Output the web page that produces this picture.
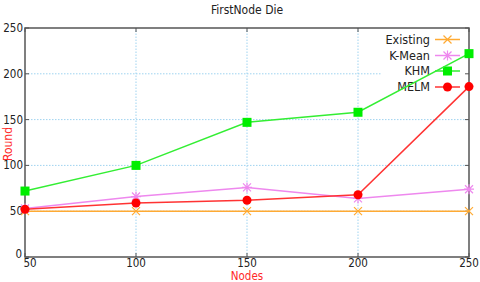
<!DOCTYPE html>
<html lang="en">
  <head>
    <meta charset="UTF-8" />
    <title>FirstNode Die</title>
    <script src="https://d3js.org/d3.v7.min.js"></script>
    <style>
      body {
        margin: 0;
        background: white;
        font-family: "DejaVu Sans Condensed", "DejaVu Sans", "Liberation Sans", sans-serif;
        font-stretch: condensed;
      }
      .grid line {
        stroke: #9fd3f0;
        stroke-width: 1px;
        stroke-dasharray: 1.5 1.5;
      }
      .tick-label {
        font-size: 11.5px;
        fill: #222;
      }
    </style>
  </head>
  <body>
    <div id="chart"></div>
    <script>
      const nodes = [50, 100, 150, 200, 250];
      const yTicks = [0, 50, 100, 150, 200, 250];
      const existing = [50, 50, 50, 50, 50];
      const kMean = [53, 66, 76, 64, 74];
      const khm = [72, 100, 147, 158, 222];
      const melm = [52, 59, 62, 68, 186];

      const series = [
        { name: "Existing", values: existing, color: "#ffaa33", marker: "x" },
        { name: "K-Mean", values: kMean, color: "#ee88ee", marker: "star" },
        { name: "KHM", values: khm, color: "#33ee33", marker: "square", fill: "#00ee00" },
        { name: "MELM", values: melm, color: "#ff3333", marker: "circle", fill: "#ff0000" },
      ];

      const width = 480;
      const height = 282;
      const margin = { top: 28, right: 11, bottom: 25, left: 25 };

      const svg = d3
        .select("#chart")
        .append("svg")
        .attr("width", width)
        .attr("height", height);

      const x = d3
        .scaleLinear()
        .domain([50, 250])
        .range([margin.left, width - margin.right]);
      const y = d3
        .scaleLinear()
        .domain([0, 250])
        .range([height - margin.bottom, margin.top]);

      // legend area, clears the grid behind it
      const legendLeft = 382;
      const legendBottom = 95;

      const grid = svg.append("g").attr("class", "grid");
      grid
        .selectAll(".gx")
        .data([100, 150, 200])
        .enter()
        .append("line")
        .attr("x1", (d) => x(d))
        .attr("x2", (d) => x(d))
        .attr("y1", y(0))
        .attr("y2", y(250));
      grid
        .selectAll(".gy")
        .data([50, 100, 150, 200])
        .enter()
        .append("line")
        .attr("x1", x(50))
        .attr("x2", (d) => (y(d) < legendBottom ? legendLeft : x(250)))
        .attr("y1", (d) => y(d))
        .attr("y2", (d) => y(d));

      // inward ticks on all four sides
      const ticks = svg.append("g").attr("stroke", "#555").attr("stroke-width", 1);
      yTicks.forEach((t) => {
        ticks.append("line").attr("x1", x(50)).attr("x2", x(50) + 4).attr("y1", y(t)).attr("y2", y(t));
        ticks.append("line").attr("x1", x(250)).attr("x2", x(250) - 4).attr("y1", y(t)).attr("y2", y(t));
      });
      nodes.forEach((t) => {
        ticks.append("line").attr("x1", x(t)).attr("x2", x(t)).attr("y1", y(0)).attr("y2", y(0) - 4);
        ticks.append("line").attr("x1", x(t)).attr("x2", x(t)).attr("y1", y(250)).attr("y2", y(250) + 4);
      });

      svg
        .append("rect")
        .attr("x", x(50))
        .attr("y", y(250))
        .attr("width", x(250) - x(50))
        .attr("height", y(0) - y(250))
        .attr("fill", "none")
        .attr("stroke", "#555")
        .attr("stroke-width", 1.5);

      svg
        .selectAll(".ylab")
        .data(yTicks)
        .enter()
        .append("text")
        .attr("class", "tick-label")
        .attr("x", (d) => x(50) - (d === 0 ? 3 : 2))
        .attr("y", (d) => y(d) - (d === 0 ? 3 : 0))
        .attr("dy", "0.35em")
        .attr("text-anchor", "end")
        .text((d) => d);

      svg
        .selectAll(".xlab")
        .data(nodes)
        .enter()
        .append("text")
        .attr("class", "tick-label")
        .attr("x", (d) => x(d) + (d === 50 ? 5 : 0))
        .attr("y", y(0) + 9.5)
        .attr("font-size", 11)
        .attr("text-anchor", "middle")
        .text((d) => d);

      svg
        .append("text")
        .attr("x", 247)
        .attr("y", 14)
        .attr("text-anchor", "middle")
        .attr("font-size", 12)
        .attr("fill", "#222")
        .text("FirstNode Die");

      svg
        .append("text")
        .attr("x", 247)
        .attr("y", 279.5)
        .attr("text-anchor", "middle")
        .attr("font-size", 11.5)
        .attr("fill", "#ff2a2a")
        .text("Nodes");

      svg
        .append("text")
        .attr("transform", "translate(11.5,144) rotate(-90)")
        .attr("text-anchor", "middle")
        .attr("font-size", 12)
        .attr("fill", "#ff2a2a")
        .text("Round");

      function drawMarker(g, s, cx, cy) {
        if (s.marker === "x") {
          g.append("path")
            .attr("d", `M${cx - 4},${cy - 4}L${cx + 4},${cy + 4}M${cx - 4},${cy + 4}L${cx + 4},${cy - 4}`)
            .attr("stroke", s.color)
            .attr("stroke-width", 1.2);
        } else if (s.marker === "star") {
          g.append("path")
            .attr(
              "d",
              `M${cx - 4},${cy - 4}L${cx + 4},${cy + 4}M${cx - 4},${cy + 4}L${cx + 4},${cy - 4}M${cx},${cy - 5}L${cx},${cy + 5}M${cx - 5},${cy}L${cx + 5},${cy}`
            )
            .attr("stroke", s.color)
            .attr("stroke-width", 1.2);
        } else if (s.marker === "square") {
          g.append("rect")
            .attr("x", cx - 4.5)
            .attr("y", cy - 4.5)
            .attr("width", 9)
            .attr("height", 9)
            .attr("fill", s.fill);
        } else {
          g.append("circle").attr("cx", cx).attr("cy", cy).attr("r", 4.5).attr("fill", s.fill);
        }
      }

      const line = d3
        .line()
        .x((d, i) => x(nodes[i]))
        .y((d) => y(d));

      // legend
      const legendY = [39.5, 55.5, 71, 87];
      series.forEach((s, i) => {
        const g = svg.append("g");
        g.append("text")
          .attr("x", 430)
          .attr("y", legendY[i])
          .attr("dy", "0.35em")
          .attr("text-anchor", "end")
          .attr("font-size", 12.5)
          .attr("fill", "#222")
          .text(s.name);
        g.append("line")
          .attr("x1", 435)
          .attr("x2", 460)
          .attr("y1", legendY[i])
          .attr("y2", legendY[i])
          .attr("stroke", s.color)
          .attr("stroke-width", 1.5);
        drawMarker(g, s, 447.5, legendY[i]);
      });

      series.forEach((s) => {
        const g = svg.append("g");
        g.append("path")
          .datum(s.values)
          .attr("d", line)
          .attr("fill", "none")
          .attr("stroke", s.color)
          .attr("stroke-width", 1.5);
        s.values.forEach((v, i) => drawMarker(g, s, x(nodes[i]), y(v)));
      });
    </script>
  </body>
</html>
